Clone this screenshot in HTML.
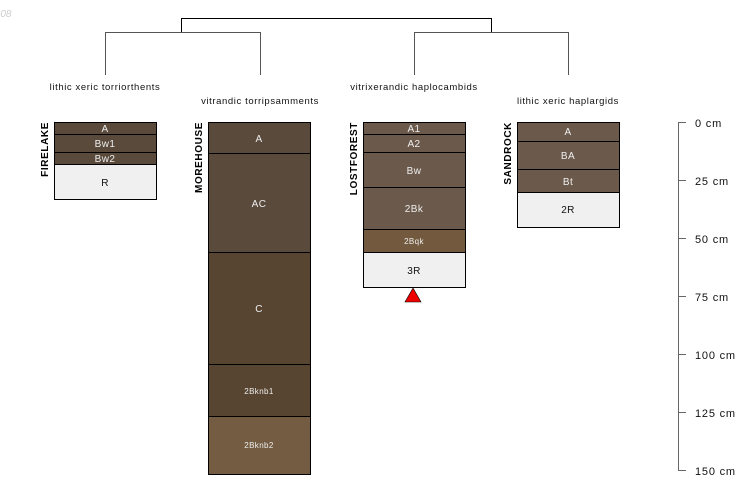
<!DOCTYPE html>
<html><head><meta charset="utf-8"><style>
html,body{margin:0;padding:0;background:#fff;}
svg{display:block;font-family:"Liberation Sans",sans-serif;}
</style></head><body>
<svg width="750" height="500" viewBox="0 0 750 500" xmlns="http://www.w3.org/2000/svg">
<text x="-3" y="17" font-size="10" font-style="italic" fill="#ccc">-08</text>
<g stroke="#000" stroke-width="1" fill="none">
<path d="M181.5 32V18.5H491.5V32"/>
</g>
<g stroke="#555" stroke-width="1" fill="none">
<path d="M105.5 75V32.5H260.5V75"/>
<path d="M414.5 75V32.5H568.5V75"/>
</g>
<g font-size="9.5" fill="#111" text-anchor="middle" letter-spacing="0.6">
<text x="105" y="90">lithic xeric torriorthents</text>
<text x="260" y="104">vitrandic torripsamments</text>
<text x="414" y="90">vitrixerandic haplocambids</text>
<text x="568" y="104">lithic xeric haplargids</text>
</g>
<g stroke="#000" stroke-width="1">
<rect x="54.5" y="122.5" width="102" height="12" fill="#594a3c"/>
<rect x="54.5" y="134.5" width="102" height="18" fill="#594a3c"/>
<rect x="54.5" y="152.5" width="102" height="12" fill="#594a3c"/>
<rect x="54.5" y="164.5" width="102" height="35" fill="#f0f0f0"/>
<rect x="208.5" y="122.5" width="102" height="31" fill="#594a3c"/>
<rect x="208.5" y="153.5" width="102" height="99" fill="#594a3c"/>
<rect x="208.5" y="252.5" width="102" height="112" fill="#574531"/>
<rect x="208.5" y="364.5" width="102" height="52" fill="#574531"/>
<rect x="208.5" y="416.5" width="102" height="58" fill="#735c42"/>
<rect x="363.5" y="122.5" width="102" height="12" fill="#6b5a4b"/>
<rect x="363.5" y="134.5" width="102" height="18" fill="#6b5a4b"/>
<rect x="363.5" y="152.5" width="102" height="35" fill="#6b5a4b"/>
<rect x="363.5" y="187.5" width="102" height="42" fill="#6b5a4b"/>
<rect x="363.5" y="229.5" width="102" height="23" fill="#735a3f"/>
<rect x="363.5" y="252.5" width="102" height="35" fill="#f0f0f0"/>
<rect x="517.5" y="122.5" width="102" height="19" fill="#6b5a4b"/>
<rect x="517.5" y="141.5" width="102" height="28" fill="#6b5a4b"/>
<rect x="517.5" y="169.5" width="102" height="23" fill="#6b5a4b"/>
<rect x="517.5" y="192.5" width="102" height="35" fill="#f0f0f0"/>
</g>
<polygon points="413,288 405,302 421,302" fill="#e00" stroke="#000" stroke-width="0.6"/>
<g font-size="10" text-anchor="middle" fill="#eee" letter-spacing="0.4">
<text x="105" y="132">A</text>
<text x="105" y="147">Bw1</text>
<text x="105" y="162">Bw2</text>
<text x="105" y="186" fill="#111">R</text>
<text x="259" y="142">A</text>
<text x="259" y="207">AC</text>
<text x="259" y="312">C</text>
<text x="259" y="394" font-size="8">2Bknb1</text>
<text x="259" y="448" font-size="8">2Bknb2</text>
<text x="414" y="132">A1</text>
<text x="414" y="147">A2</text>
<text x="414" y="174">Bw</text>
<text x="414" y="212">2Bk</text>
<text x="414" y="244" font-size="8">2Bqk</text>
<text x="414" y="274" fill="#111">3R</text>
<text x="568" y="135">A</text>
<text x="568" y="159">BA</text>
<text x="568" y="185">Bt</text>
<text x="568" y="213" fill="#111">2R</text>
</g>
<g font-size="10" font-weight="bold" fill="#000" text-anchor="end" letter-spacing="0.6">
<text transform="translate(48,122) rotate(-90)">FIRELAKE</text>
<text transform="translate(202,122) rotate(-90)">MOREHOUSE</text>
<text transform="translate(357,122) rotate(-90)">LOSTFOREST</text>
<text transform="translate(511,122) rotate(-90)">SANDROCK</text>
</g>
<g stroke="#666" stroke-width="1" fill="none">
<path d="M678.5 122.5V470.5"/>
<path d="M678 122.5h8M678 180.5h8M678 238.5h8M678 296.5h8M678 354.5h8M678 412.5h8M678 470.5h8"/>
</g>
<g font-size="11" fill="#111" letter-spacing="0.8">
<text x="695" y="127">0 cm</text>
<text x="695" y="185">25 cm</text>
<text x="695" y="243">50 cm</text>
<text x="695" y="301">75 cm</text>
<text x="695" y="359">100 cm</text>
<text x="695" y="417">125 cm</text>
<text x="695" y="475">150 cm</text>
</g>
</svg>
</body></html>
